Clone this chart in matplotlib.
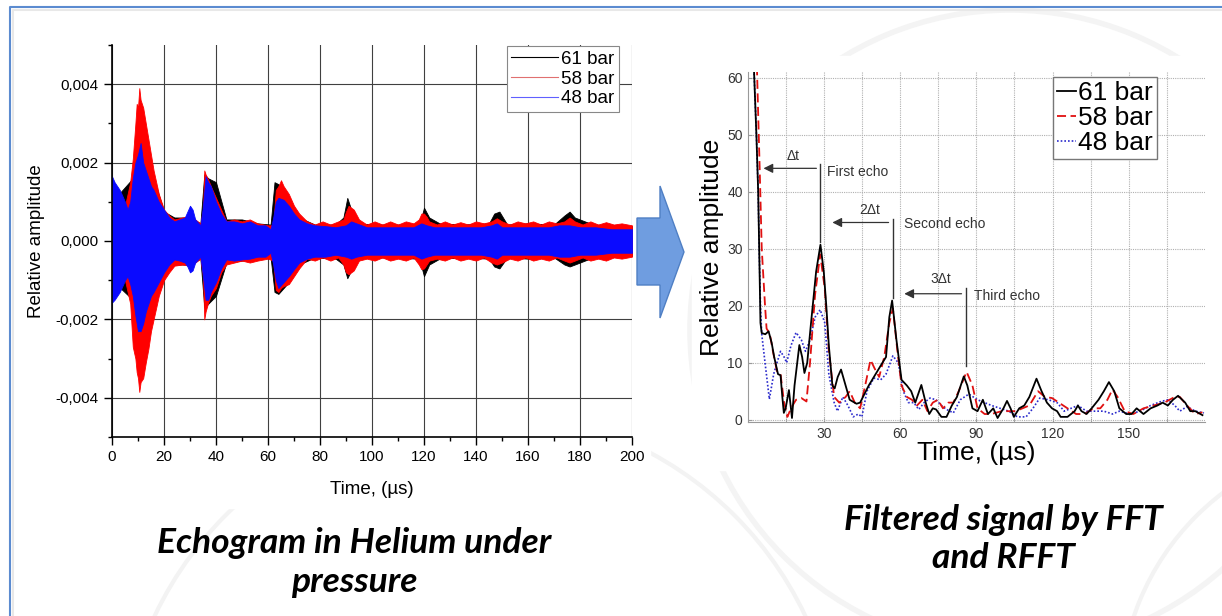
import matplotlib.pyplot as plt
import numpy as np
from matplotlib.lines import Line2D
from matplotlib.patches import Polygon, Arc, Rectangle
from matplotlib.ticker import FuncFormatter, MultipleLocator, FixedLocator

plt.rcParams['font.family'] = ['Liberation Sans', 'DejaVu Sans']

# ---- left panel: echogram envelopes (units of 1e-3) ----
labels = ["61 bar", "58 bar", "48 bar"]

t_blue = [0, 1, 2, 3, 4, 5, 6, 7, 8, 9, 10, 11, 12, 13, 14, 15, 16, 18, 20, 22,
          24, 26, 28, 29, 30, 31, 32, 34, 35, 36, 37, 38, 40, 42, 44, 47, 50, 53, 56, 59,
          61, 62, 63, 64, 66, 68, 70, 72, 75, 78, 82, 86, 90, 92, 94, 98, 104, 110, 116, 119,
          121, 124, 130, 136, 142, 146, 148, 150, 156, 162, 168, 172, 176, 180, 186, 192, 200]
up_blue = [1.65, 1.5, 1.4, 1.3, 1.15, 1.0, 0.8, 1.0, 1.6, 2.0, 2.2, 2.5, 2.0, 1.8, 1.6, 1.4, 1.3, 1.0, 0.8, 0.6,
           0.5, 0.55, 0.6, 0.75, 0.9, 0.8, 0.55, 0.4, 0.9, 1.65, 1.5, 1.4, 1.0, 0.7, 0.5, 0.5, 0.45, 0.5, 0.4, 0.4,
           0.3, 0.6, 1.0, 1.1, 1.05, 0.9, 0.7, 0.55, 0.45, 0.4, 0.38, 0.35, 0.4, 0.5, 0.45, 0.35, 0.35, 0.35, 0.35, 0.45,
           0.4, 0.35, 0.35, 0.35, 0.35, 0.4, 0.45, 0.35, 0.35, 0.35, 0.35, 0.4, 0.4, 0.35, 0.35, 0.3, 0.3]
lo_blue = [-1.57, -1.5, -1.4, -1.3, -1.15, -1.0, -0.9, -1.1, -1.4, -1.9, -2.3, -2.3, -2.1, -1.8, -1.6, -1.4, -1.3, -1.05, -0.8, -0.6,
           -0.47, -0.5, -0.55, -0.65, -0.8, -0.75, -0.55, -0.4, -0.9, -1.5, -1.5, -1.3, -1.05, -0.7, -0.47, -0.5, -0.47, -0.45, -0.4, -0.4,
           -0.3, -0.6, -1.0, -1.2, -1.05, -0.9, -0.72, -0.55, -0.45, -0.4, -0.4, -0.35, -0.4, -0.45, -0.4, -0.35, -0.35, -0.35, -0.35, -0.45,
           -0.4, -0.35, -0.35, -0.35, -0.35, -0.4, -0.45, -0.35, -0.35, -0.35, -0.35, -0.4, -0.4, -0.35, -0.35, -0.3, -0.3]

t_red = [0, 5, 7, 8, 9, 9.5, 10, 10.5, 11, 12, 13, 14, 15, 16, 18, 20, 22, 24, 27, 30,
         32, 34, 35, 35.5, 36, 37, 38, 40, 42, 44, 47, 50, 53, 56, 60, 62, 63, 64, 65, 66,
         68, 70, 72, 75, 78, 81, 84, 87, 89, 90, 91, 92, 93, 95, 98, 101, 104, 107, 110, 113,
         116, 118, 119, 120, 121, 122, 125, 128, 131, 134, 137, 140, 143, 146, 148, 150, 153, 156, 159, 162,
         165, 168, 171, 174, 176, 178, 181, 184, 187, 190, 193, 196, 200]
up_red = [1.2, 0.9, 1.5, 2.1, 3.0, 3.5, 3.4, 3.9, 3.6, 3.4, 3.0, 2.6, 2.2, 1.8, 1.2, 0.8, 0.65, 0.55, 0.6, 0.64,
          0.55, 0.45, 0.8, 1.8, 1.7, 1.57, 1.4, 1.1, 0.8, 0.5, 0.55, 0.5, 0.55, 0.45, 0.4, 0.4, 1.3, 1.4, 1.55, 1.4,
          1.2, 0.9, 0.7, 0.5, 0.42, 0.5, 0.42, 0.5, 0.55, 0.75, 0.9, 0.85, 0.8, 0.55, 0.42, 0.5, 0.42, 0.5, 0.42, 0.5,
          0.45, 0.55, 0.7, 0.7, 0.62, 0.5, 0.42, 0.5, 0.42, 0.48, 0.42, 0.5, 0.45, 0.5, 0.58, 0.5, 0.42, 0.5, 0.45, 0.5,
          0.42, 0.5, 0.45, 0.5, 0.6, 0.5, 0.42, 0.5, 0.42, 0.48, 0.42, 0.45, 0.4]
lo_red = [-1.2, -1.0, -1.6, -2.7, -3.0, -3.35, -3.5, -3.85, -3.6, -3.5, -3.1, -2.75, -2.3, -2.0, -1.4, -1.0, -0.8, -0.63, -0.6, -0.63,
          -0.55, -0.45, -0.9, -2.0, -1.8, -1.57, -1.4, -1.2, -0.8, -0.6, -0.55, -0.5, -0.55, -0.5, -0.45, -0.5, -1.25, -1.3, -1.2, -1.15,
          -1.1, -0.9, -0.7, -0.45, -0.5, -0.42, -0.5, -0.42, -0.6, -0.8, -0.85, -0.8, -0.75, -0.5, -0.45, -0.5, -0.42, -0.5, -0.45, -0.5,
          -0.42, -0.6, -0.72, -0.7, -0.6, -0.5, -0.45, -0.5, -0.42, -0.5, -0.45, -0.5, -0.42, -0.55, -0.6, -0.55, -0.45, -0.5, -0.42, -0.5,
          -0.45, -0.5, -0.42, -0.5, -0.55, -0.5, -0.42, -0.5, -0.45, -0.5, -0.42, -0.45, -0.4]

t_black = [0, 8, 10, 12, 16, 20, 24, 30, 34, 35.5, 37, 40, 44, 50, 56, 61, 62.5, 64, 66, 68,
           72, 78, 86, 89, 90.5, 92, 95, 100, 110, 117, 119, 120, 122, 126, 135, 145, 147, 149, 152, 160,
           170, 174, 176, 178, 185, 200]
up_black = [1.0, 1.6, 2.8, 2.6, 1.6, 0.75, 0.6, 0.6, 0.45, 1.7, 1.6, 1.5, 0.55, 0.55, 0.45, 0.42, 1.5, 1.45, 1.3, 1.1,
            0.6, 0.42, 0.42, 0.6, 1.1, 0.8, 0.45, 0.42, 0.42, 0.42, 0.6, 0.85, 0.6, 0.45, 0.42, 0.45, 0.7, 0.75, 0.42, 0.45,
            0.42, 0.65, 0.75, 0.6, 0.42, 0.38]
lo_black = [-1.0, -1.5, -2.8, -2.7, -1.7, -0.85, -0.6, -0.6, -0.45, -1.7, -1.6, -1.4, -0.55, -0.5, -0.45, -0.42, -1.3, -1.35, -1.2, -1.05,
            -0.6, -0.42, -0.45, -0.6, -0.95, -0.75, -0.45, -0.42, -0.42, -0.45, -0.65, -0.9, -0.6, -0.45, -0.42, -0.45, -0.65, -0.7, -0.42, -0.45,
            -0.42, -0.6, -0.65, -0.6, -0.42, -0.38]

# ---- right panel: filtered signals ----
t61 = [2.5, 3.5, 4.2, 4.6, 5.1, 5.6, 7, 8.3, 9.5, 10.5, 12, 13, 13.7, 14.3, 15, 16.3, 17.5, 18.5, 20.4, 21.5,
       22.4, 23.5, 25, 27, 28.7, 30, 31, 32, 33.4, 34.3, 35.5, 36.8, 38.6, 40.2, 42.9, 44.3, 46, 47.7, 50.4, 53.1,
       54.5, 55.8, 56.9, 58.6, 60.6, 62.7, 64.4, 66, 68.4, 70.1, 71.5, 72.9, 74.2, 76.3, 78.3, 80.4, 82.4, 85.1, 86.5, 88.5,
       90.5, 92.6, 94.6, 96.7, 98.4, 100.7, 102.1, 103.5, 104.8, 106.9, 108.9, 110.9, 113.7, 115.7, 117.8, 119.8, 121.8, 123.2, 125.9, 128.7,
       130, 131.4, 133.4, 135.4, 138.1, 140.2, 142.2, 144.3, 146.3, 149, 151.1, 153.1, 155.8, 158.6, 161.3, 163.3, 165.4, 167.4, 169.4, 172.2,
       174.2, 176.2, 179]
a61 = [62, 50, 40, 30, 17, 15.2, 15, 15.5, 13.5, 11, 8, 7.8, 4, 1.2, 2, 5.2, 0.3, 6, 13.1, 11,
       8.2, 10, 17, 26, 30.7, 26, 20, 13, 6, 5.5, 7.5, 8.8, 6, 3.5, 2.8, 3, 4.5, 6, 8, 10,
       11, 18, 20.9, 14, 7, 6, 5, 3, 6.1, 3, 1, 2, 1.8, 0.5, 0.5, 2.5, 4, 7.6, 6, 2,
       1.5, 3.5, 1, 2, 0.3, 2, 3.3, 2, 0.5, 2, 2.5, 4, 7.2, 5, 3, 2, 1.5, 0.5, 0.5, 1.5,
       2.5, 1.5, 1, 2, 3.5, 5, 6.6, 5, 2, 1, 1, 2, 1, 2, 2.5, 3, 2.5, 3.5, 4.2, 3,
       1.5, 1.5, 0.8]

t58 = [3.7, 4.3, 4.8, 5.6, 6.9, 7.5, 8.2, 9, 10, 11.6, 13, 14.4, 15.7, 17.1, 19.1, 21.2, 23.2, 24.6, 26.6, 28.6,
       30.4, 32, 34.1, 36.1, 38.6, 40.2, 42.2, 44.3, 46.3, 48.4, 50, 51.8, 53.8, 55.8, 57.2, 59, 60.6, 62.7, 64.7, 66.7,
       68.8, 70.8, 72.9, 74.9, 76.9, 79, 81, 83.1, 86.2, 88.5, 90.5, 93.3, 96, 100, 102.8, 105.5, 108.2, 110.9, 114.3, 117,
       119.8, 122.5, 125.9, 129.3, 132.7, 136.1, 138.8, 141.6, 143.6, 145.6, 148.4, 151.8, 155.8, 159.9, 164, 168.1, 170.1, 172.9, 176.2, 179]
a58 = [62, 52, 44, 30, 20, 16, 15.5, 14.5, 12, 8.5, 8, 3, 0.5, 2, 3.5, 3.8, 3.2, 10, 22, 29,
       23, 12, 4, 3, 4, 5, 3, 2, 6, 10.5, 9, 7.5, 11, 17, 19.5, 12, 6, 4, 3.5, 2.5,
       3.5, 1.5, 3, 3.5, 2, 3, 3, 5, 8.4, 6, 2, 1, 1, 1.5, 1.5, 1.5, 2, 2.5, 5, 4,
       3.8, 3, 2, 1, 1, 2, 2, 3.5, 5.3, 4, 1.5, 1, 2, 2.5, 3, 4, 4, 2.5, 1, 1.3]

t48 = [2.5, 3.5, 4.2, 4.6, 5.1, 5.6, 6.9, 8.6, 10.3, 11.6, 13, 14.4, 15.4, 17.1, 19.1, 21.2, 22.8, 24.6, 26.6, 28.6,
       30.4, 32, 34.1, 35.4, 37.5, 39.5, 41.6, 43.6, 45, 47, 49.7, 52.4, 54.5, 57.2, 59.3, 61.3, 63.3, 65.4, 67.4, 69.5,
       71.8, 74.2, 76.3, 78.3, 81, 83.7, 87.1, 90.5, 93.3, 96, 99.4, 102.8, 106.2, 109.6, 112.3, 115, 118.4, 121.8, 124.6, 127.3,
       130, 133.4, 136.8, 140.2, 143.6, 146.3, 150.4, 154.5, 158.6, 162.7, 165.4, 168.1, 170.1, 172.9, 176.2, 179.6]
a48 = [62, 50, 40, 30, 20, 15, 10, 3.6, 8, 10, 12, 11, 10, 13, 15.3, 14, 12, 14, 18, 19.3,
       17, 8, 3, 1.5, 4, 2.5, 0.5, 1, 0.5, 5, 7.3, 7, 8, 11.2, 10, 5, 3, 3, 1.8, 3,
       3.8, 3.5, 2.5, 1.8, 1.2, 3.5, 4.5, 3.5, 3, 2.5, 2, 1.5, 0.5, 0.5, 2, 3.8, 3.5, 3, 1.5, 2,
       2.5, 1.5, 1.5, 1.5, 1, 1.5, 1, 1.5, 2.5, 3.2, 3.5, 2.5, 1.5, 2.3, 1.5, 1.2]

fig = plt.figure(figsize=(12.22, 6.16), dpi=100)

# slide background (pixel coordinates)
bg = fig.add_axes([0, 0, 1, 1], zorder=-1)
bg.set_xlim(0, 1222)
bg.set_ylim(616, 0)
bg.axis('off')
bg.add_patch(Arc((480, 770), 720, 720, color='#f3f3f3', lw=3))
bg.add_patch(Arc((1010, 330), 640, 640, color='#f4f4f4', lw=4))
bg.add_patch(Arc((1380, 700), 520, 520, color='#f3f3f3', lw=3))
bg.add_patch(Rectangle((13, 10), 637, 498, color='white'))
bg.add_patch(Rectangle((692, 56), 530, 414, color='white'))
bg.plot([10, 10, 1222], [616, 7, 7], color='#5b8bd0', lw=1.5)
bg.plot([13, 13, 1222], [616, 10, 10], color='#e8e8e8', lw=1.5)
bg.add_patch(Polygon([(637, 218), (660, 218), (660, 186), (684, 252), (660, 318), (660, 285), (637, 285)],
                     facecolor='#6f9de0', edgecolor='#4f7fc4', lw=1))
cap = dict(family=['Lato', 'DejaVu Sans'], fontsize=25.5, fontweight='bold', fontstyle='italic',
           ha='center', va='baseline')
bg.text(354, 553, "Echogram in Helium under", **cap)
bg.text(354, 592, "pressure", **cap)
bg.text(1003, 530, "Filtered signal by FFT", **cap)
bg.text(1003, 568, "and RFFT", **cap)

# left panel
ax = fig.add_axes([112/1222, 1-437/616, 520/1222, 392/616])
ax.fill_between(t_black, np.array(lo_black)*1e-3, np.array(up_black)*1e-3, color='black', lw=0.6)
ax.fill_between(t_red, np.array(lo_red)*1e-3, np.array(up_red)*1e-3, color='#ff0000', lw=0.6)
ax.fill_between(t_blue, np.array(lo_blue)*1e-3, np.array(up_blue)*1e-3, color='#0a0aff', lw=0.6)
ax.set_xlim(0, 200)
ax.set_ylim(-0.005, 0.005)
ax.xaxis.set_major_locator(MultipleLocator(20))
ax.xaxis.set_minor_locator(MultipleLocator(10))
ax.yaxis.set_major_locator(MultipleLocator(0.002))
ax.yaxis.set_minor_locator(MultipleLocator(0.001))
ax.yaxis.set_major_formatter(FuncFormatter(lambda v, _: f"{v:.3f}".replace('.', ',').replace('-0,000', '0,000')))
ax.grid(True, which='major', color='#404040', lw=0.8)
ax.set_axisbelow(True)
for s in ['top', 'right']:
    ax.spines[s].set_visible(False)
for s in ['left', 'bottom']:
    ax.spines[s].set_linewidth(1.2)
ax.tick_params(which='major', direction='out', length=6, width=1, labelsize=11)
ax.tick_params(which='minor', direction='out', length=3, width=1)
ax.set_xlabel("Time, (µs)", fontsize=13.5, labelpad=12)
ax.set_ylabel("Relative amplitude", fontsize=13.5, labelpad=8)
hl = [Line2D([], [], color=c, lw=0.8) for c in ['black', '#e07070', '#6060ff']]
leg = ax.legend(hl, labels, loc='upper right', bbox_to_anchor=(0.975, 0.998), fontsize=13.5,
                frameon=True, fancybox=False, edgecolor='#888888', framealpha=1,
                handlelength=2.5, handletextpad=0.15, borderpad=0.25, labelspacing=0.15, borderaxespad=0)
leg.get_frame().set_linewidth(0.8)

# right panel
ax2 = fig.add_axes([747.5/1222, 1-422/616, 457.5/1222, 350/616])
ax2.plot(t48, a48, color='#2a2acc', lw=1.2, ls=(0, (1, 1.2)), label="48 bar")
ax2.plot(t58, a58, color='#e01010', lw=1.3, ls=(0, (5, 2.5)), label="58 bar")
ax2.plot(t61, a61, color='black', lw=1.3, label="61 bar")
ax2.set_xlim(0, 180)
ax2.set_ylim(-0.4, 61)
ax2.xaxis.set_major_locator(FixedLocator([30, 60, 90, 120, 150]))
ax2.xaxis.set_minor_locator(FixedLocator([15, 45, 75, 105, 135, 165]))
ax2.yaxis.set_major_locator(MultipleLocator(10))
ax2.grid(True, which='both', axis='x', color='#b0b0b0', lw=0.8, ls=(0, (1, 1)))
ax2.grid(True, which='major', axis='y', color='#b0b0b0', lw=0.8, ls=(0, (1, 1)))
ax2.set_axisbelow(True)
for s in ['top', 'right']:
    ax2.spines[s].set_visible(False)
for s in ['left', 'bottom']:
    ax2.spines[s].set_color('#999999')
ax2.tick_params(which='both', direction='in', length=3, color='#999999', labelsize=10, labelcolor='#333333')
ax2.set_xlabel("Time, (µs)", fontsize=19, labelpad=0)
ax2.set_ylabel("Relative amplitude", fontsize=19, labelpad=2)
h, l = ax2.get_legend_handles_labels()
leg2 = ax2.legend(h[::-1], l[::-1], loc='upper right', bbox_to_anchor=(0.895, 0.986), fontsize=19,
                  frameon=True, fancybox=False, edgecolor='#777777', framealpha=1,
                  handlelength=0.7, handletextpad=0.1, borderpad=0.15, labelspacing=0.05, borderaxespad=0)
leg2.get_frame().set_linewidth(1)

# echo annotations
arr = dict(arrowstyle='-|>', color='#333333', lw=0.9, mutation_scale=14)
ann = dict(fontsize=10, color='#333333', va='center')
ax2.annotate('', xy=(5.2, 44.1), xytext=(28.2, 44.1), arrowprops=arr)
ax2.plot([28.5, 28.5], [44.8, 31.2], color='#333333', lw=1)
ax2.text(17.8, 46.2, "Δt", ha='center', **ann)
ax2.text(31.2, 43.4, "First echo", ha='left', **ann)
ax2.annotate('', xy=(32.3, 34.6), xytext=(56.6, 34.6), arrowprops=arr)
ax2.plot([57.2, 57.2], [35.2, 21.3], color='#333333', lw=1)
ax2.text(48, 36.8, "2Δt", ha='center', **ann)
ax2.text(61.7, 34.3, "Second echo", ha='left', **ann)
ax2.annotate('', xy=(60.6, 22.1), xytext=(85.3, 22.1), arrowprops=arr)
ax2.plot([85.9, 85.9], [23.1, 9.5], color='#333333', lw=1)
ax2.text(76.2, 24.6, "3Δt", ha='center', **ann)
ax2.text(89.2, 21.7, "Third echo", ha='left', **ann)

fig.savefig("out.png", dpi=100)
